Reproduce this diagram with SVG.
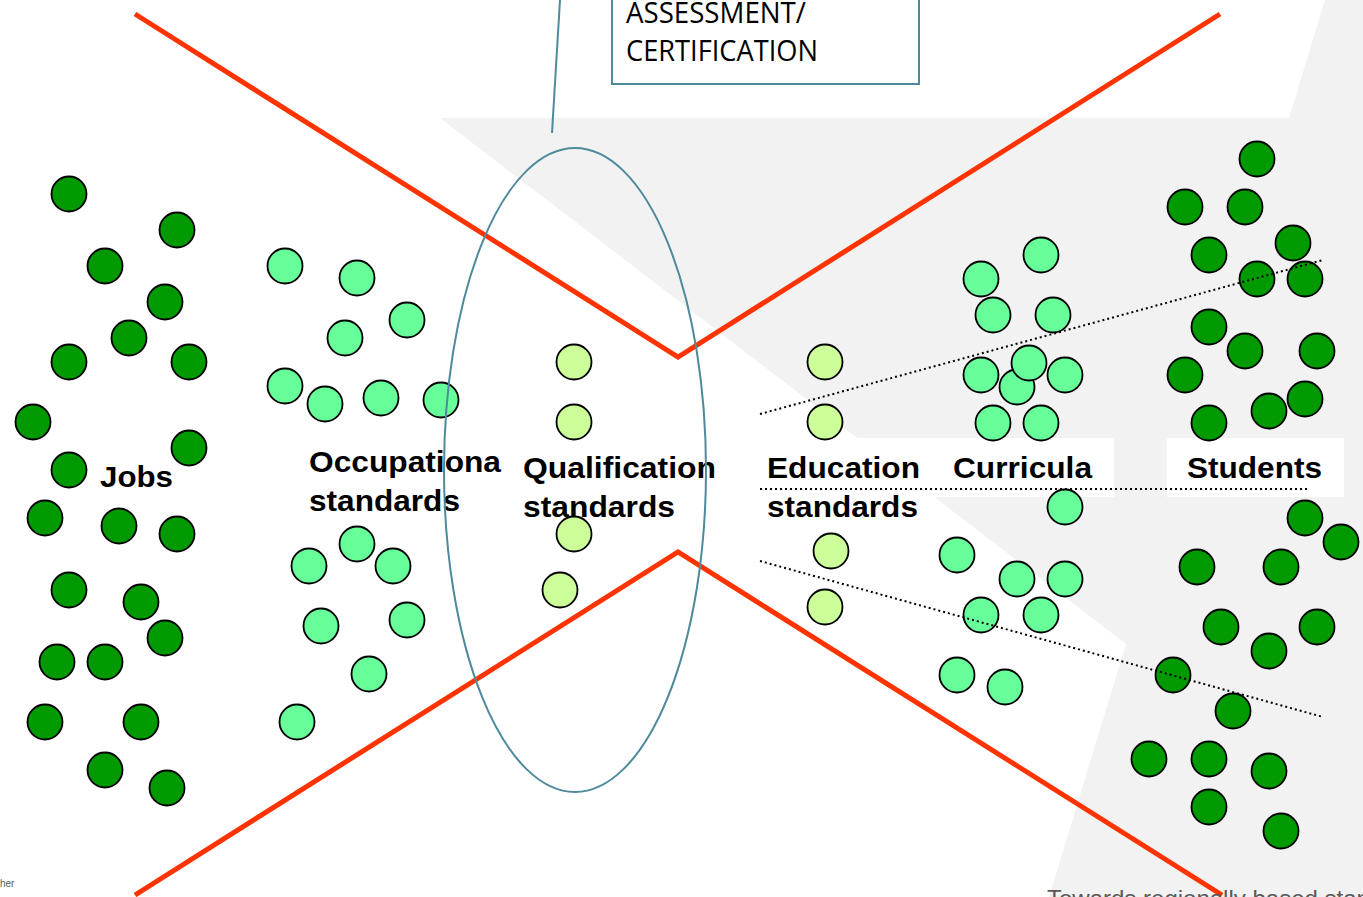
<svg xmlns="http://www.w3.org/2000/svg" width="1363" height="897" viewBox="0 0 1363 897">
<style>
.dk{fill:#009900;stroke:#000;stroke-width:1.8}
.lt{fill:#66ff99;stroke:#000;stroke-width:1.8}
.pl{fill:#ccff99;stroke:#000;stroke-width:1.8}
.lbl{font-family:"Liberation Sans",Arial,sans-serif;font-weight:bold;font-size:30px;fill:#000}
.red{fill:none;stroke:#ff3300;stroke-width:5;stroke-linejoin:miter}
.dot{fill:none;stroke:#000;stroke-width:2;stroke-dasharray:2 3}
.teal{fill:none;stroke:#4e8a9c;stroke-width:2}
.box{font-family:"Open Sans","Liberation Sans",Arial,sans-serif;font-size:29px;fill:#000}
</style>
<defs>
<circle id="c" r="17.5"/>
</defs>
<rect width="1363" height="897" fill="#fff"/>
<g id="background">
<polygon points="440,118 1289,118 1325,0 1363,0 1363,897 1049,897 1126,644" fill="#f2f2f2"/>
<rect x="760" y="438" width="354" height="59" fill="#fff"/>
<rect x="1167" y="438" width="177" height="59" fill="#fff"/>
</g>
<g id="node-jobs">
<use href="#c" class="dk" x="69" y="194"/>
<use href="#c" class="dk" x="177" y="230"/>
<use href="#c" class="dk" x="105" y="266"/>
<use href="#c" class="dk" x="165" y="302"/>
<use href="#c" class="dk" x="129" y="338"/>
<use href="#c" class="dk" x="69" y="362"/>
<use href="#c" class="dk" x="189" y="362"/>
<use href="#c" class="dk" x="33" y="422"/>
<use href="#c" class="dk" x="189" y="448"/>
<use href="#c" class="dk" x="69" y="470"/>
<use href="#c" class="dk" x="45" y="518"/>
<use href="#c" class="dk" x="119" y="526"/>
<use href="#c" class="dk" x="177" y="534"/>
<use href="#c" class="dk" x="69" y="590"/>
<use href="#c" class="dk" x="141" y="602"/>
<use href="#c" class="dk" x="165" y="638"/>
<use href="#c" class="dk" x="57" y="662"/>
<use href="#c" class="dk" x="105" y="662"/>
<use href="#c" class="dk" x="45" y="722"/>
<use href="#c" class="dk" x="141" y="722"/>
<use href="#c" class="dk" x="105" y="770"/>
<use href="#c" class="dk" x="167" y="788"/>
<text class="lbl" x="100" y="487" textLength="73" lengthAdjust="spacingAndGlyphs">Jobs</text>
</g>
<g id="node-occupational">
<use href="#c" class="lt" x="285" y="266"/>
<use href="#c" class="lt" x="357" y="278"/>
<use href="#c" class="lt" x="407" y="320"/>
<use href="#c" class="lt" x="345" y="338"/>
<use href="#c" class="lt" x="285" y="386"/>
<use href="#c" class="lt" x="325" y="404"/>
<use href="#c" class="lt" x="381" y="398"/>
<use href="#c" class="lt" x="441" y="400"/>
<use href="#c" class="lt" x="357" y="544"/>
<use href="#c" class="lt" x="309" y="566"/>
<use href="#c" class="lt" x="393" y="566"/>
<use href="#c" class="lt" x="321" y="626"/>
<use href="#c" class="lt" x="407" y="620"/>
<use href="#c" class="lt" x="369" y="674"/>
<use href="#c" class="lt" x="297" y="722"/>
<text class="lbl" x="309" y="472" textLength="192" lengthAdjust="spacingAndGlyphs">Occupationa</text>
<text class="lbl" x="309" y="511" textLength="151" lengthAdjust="spacingAndGlyphs">standards</text>
</g>
<g id="node-qualification">
<use href="#c" class="pl" x="574" y="362"/>
<use href="#c" class="pl" x="574" y="422"/>
<use href="#c" class="pl" x="574" y="534"/>
<use href="#c" class="pl" x="560" y="590"/>
<text class="lbl" x="523" y="478" textLength="193" lengthAdjust="spacingAndGlyphs">Qualification</text>
<text class="lbl" x="523" y="517" textLength="152" lengthAdjust="spacingAndGlyphs">standards</text>
</g>
<g id="node-education">
<use href="#c" class="pl" x="825" y="362"/>
<use href="#c" class="pl" x="825" y="422"/>
<use href="#c" class="pl" x="831" y="551"/>
<use href="#c" class="pl" x="825" y="607"/>
<text class="lbl" x="767" y="478" textLength="153" lengthAdjust="spacingAndGlyphs">Education</text>
<text class="lbl" x="767" y="517" textLength="151" lengthAdjust="spacingAndGlyphs">standards</text>
</g>
<g id="node-curricula">
<use href="#c" class="lt" x="1041" y="255"/>
<use href="#c" class="lt" x="981" y="279"/>
<use href="#c" class="lt" x="993" y="315"/>
<use href="#c" class="lt" x="1053" y="315"/>
<use href="#c" class="lt" x="981" y="375"/>
<use href="#c" class="lt" x="1065" y="375"/>
<use href="#c" class="lt" x="1017" y="387"/>
<use href="#c" class="lt" x="1029" y="363"/>
<use href="#c" class="lt" x="993" y="423"/>
<use href="#c" class="lt" x="1041" y="423"/>
<use href="#c" class="lt" x="1065" y="507"/>
<use href="#c" class="lt" x="957" y="555"/>
<use href="#c" class="lt" x="1017" y="579"/>
<use href="#c" class="lt" x="1065" y="579"/>
<use href="#c" class="lt" x="981" y="615"/>
<use href="#c" class="lt" x="1041" y="615"/>
<use href="#c" class="lt" x="957" y="675"/>
<use href="#c" class="lt" x="1005" y="687"/>
<text class="lbl" x="953" y="478" textLength="139" lengthAdjust="spacingAndGlyphs">Curricula</text>
</g>
<g id="node-students">
<use href="#c" class="dk" x="1257" y="159"/>
<use href="#c" class="dk" x="1185" y="207"/>
<use href="#c" class="dk" x="1245" y="207"/>
<use href="#c" class="dk" x="1293" y="243"/>
<use href="#c" class="dk" x="1209" y="255"/>
<use href="#c" class="dk" x="1257" y="279"/>
<use href="#c" class="dk" x="1305" y="279"/>
<use href="#c" class="dk" x="1209" y="327"/>
<use href="#c" class="dk" x="1245" y="351"/>
<use href="#c" class="dk" x="1317" y="351"/>
<use href="#c" class="dk" x="1185" y="375"/>
<use href="#c" class="dk" x="1269" y="411"/>
<use href="#c" class="dk" x="1305" y="399"/>
<use href="#c" class="dk" x="1209" y="423"/>
<use href="#c" class="dk" x="1305" y="518"/>
<use href="#c" class="dk" x="1341" y="542"/>
<use href="#c" class="dk" x="1197" y="567"/>
<use href="#c" class="dk" x="1281" y="567"/>
<use href="#c" class="dk" x="1221" y="627"/>
<use href="#c" class="dk" x="1317" y="627"/>
<use href="#c" class="dk" x="1269" y="651"/>
<use href="#c" class="dk" x="1173" y="675"/>
<use href="#c" class="dk" x="1233" y="711"/>
<use href="#c" class="dk" x="1149" y="759"/>
<use href="#c" class="dk" x="1209" y="759"/>
<use href="#c" class="dk" x="1269" y="771"/>
<use href="#c" class="dk" x="1209" y="807"/>
<use href="#c" class="dk" x="1281" y="831"/>
<text class="lbl" x="1187" y="478" textLength="135" lengthAdjust="spacingAndGlyphs">Students</text>
</g>
<g id="node-assessment">
<rect x="612" y="-4" width="307" height="88" fill="#fff" stroke="#4e8a9c" stroke-width="2"/>
<text class="box" x="626" y="23" textLength="180" lengthAdjust="spacingAndGlyphs">ASSESSMENT/</text>
<text class="box" x="626" y="61" textLength="192" lengthAdjust="spacingAndGlyphs">CERTIFICATION</text>
</g>
<g id="connectors">
<polyline class="red" points="135,14 678,357 1220,14"/>
<polyline class="red" points="135,895 678,552 1222,895"/>
<ellipse class="teal" cx="575" cy="470" rx="131" ry="322"/>
<line class="teal" x1="560" y1="0" x2="552" y2="133"/>
<line class="dot" x1="760" y1="414" x2="1323" y2="260"/>
<line class="dot" x1="760" y1="489" x2="1309" y2="489"/>
<line class="dot" x1="760" y1="561" x2="1323" y2="717"/>
</g>
<g id="footer">
<text font-family="Liberation Sans,Arial,sans-serif" font-size="10" fill="#595959" x="0" y="887">her</text>
<text font-family="Liberation Sans,Arial,sans-serif" font-size="24" fill="#595959" x="1047" y="907">Towards regionally based standards</text>
</g>
</svg>
